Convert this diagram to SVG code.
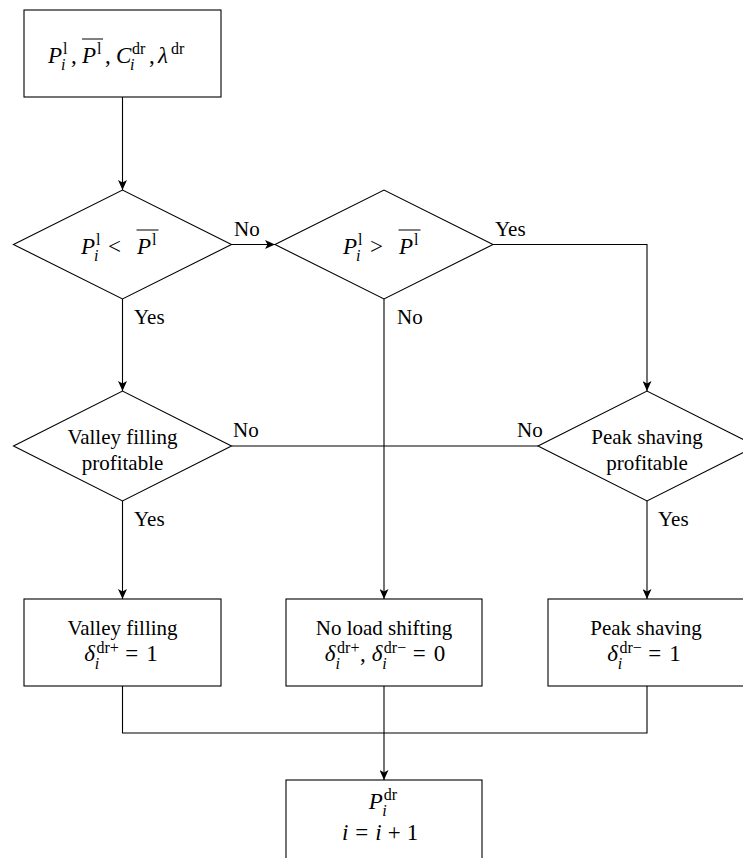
<svg xmlns="http://www.w3.org/2000/svg" width="743" height="858" viewBox="0 0 743 858">
<defs>
<marker id="ah" markerWidth="10" markerHeight="9" refX="10" refY="4.5" orient="auto" markerUnits="userSpaceOnUse">
<path d="M0,0 L10,4.5 L0,9 L2.5,4.5 Z" fill="#000"/>
</marker>
</defs>
<rect width="743" height="858" fill="#fff"/>

<g id="connectors" fill="none" stroke="#000" stroke-width="1.1">
<line x1="122.5" y1="97" x2="122.5" y2="190" marker-end="url(#ah)"/>
<line x1="231.5" y1="244.5" x2="275" y2="244.5" marker-end="url(#ah)"/>
<polyline points="493,244.5 647,244.5 647,391" marker-end="url(#ah)"/>
<line x1="122.5" y1="299" x2="122.5" y2="391" marker-end="url(#ah)"/>
<line x1="384" y1="299" x2="384" y2="599" marker-end="url(#ah)"/>
<line x1="231.5" y1="446" x2="384" y2="446"/>
<line x1="538" y1="446" x2="384" y2="446"/>
<line x1="122.5" y1="501" x2="122.5" y2="599" marker-end="url(#ah)"/>
<line x1="647" y1="501" x2="647" y2="599" marker-end="url(#ah)"/>
<polyline points="122.5,686 122.5,733 647,733 647,686"/>
<line x1="384" y1="686" x2="384" y2="780" marker-end="url(#ah)"/>
</g>
<g id="labels" font-family="Liberation Serif" font-size="21" fill="#000">
<text x="234" y="236">No</text>
<text x="495" y="236">Yes</text>
<text x="134" y="324">Yes</text>
<text x="397" y="324">No</text>
<text x="233" y="437">No</text>
<text x="517" y="437">No</text>
<text x="134" y="526">Yes</text>
<text x="658" y="526">Yes</text>
</g>

<g id="input">
<rect x="24" y="10" width="197" height="87" fill="#fff" stroke="#000" stroke-width="1.1"/>
<text font-family="Liberation Serif" font-size="23"><tspan font-style="italic" x="48" y="63">P</tspan><tspan font-size="16" x="63" y="54">l</tspan><tspan font-size="16" font-style="italic" x="61" y="70">i</tspan><tspan x="71" y="63">,</tspan><tspan font-style="italic" x="82" y="63">P</tspan><tspan font-size="16" x="97" y="54">l</tspan><tspan x="105" y="63">,</tspan><tspan font-style="italic" x="116" y="63">C</tspan><tspan font-size="16" x="132" y="54">dr</tspan><tspan font-size="16" font-style="italic" x="130" y="70">i</tspan><tspan x="149" y="63">,</tspan><tspan font-style="italic" x="158" y="63">λ</tspan><tspan font-size="16" x="171" y="54">dr</tspan></text>
<line x1="82" y1="39" x2="103" y2="39" stroke="#000"/>
</g>

<g id="dec-less">
<polygon points="13.5,244.5 122.5,190 231.5,244.5 122.5,299" fill="#fff" stroke="#000" stroke-width="1.1"/>
<text font-family="Liberation Serif" font-size="23"><tspan font-style="italic" x="81" y="254">P</tspan><tspan font-size="16" x="96" y="245">l</tspan><tspan font-size="16" font-style="italic" x="94" y="261">i</tspan><tspan x="108" y="254">&lt;</tspan><tspan font-style="italic" x="137" y="254">P</tspan><tspan font-size="16" x="152" y="245">l</tspan></text>
<line x1="136.5" y1="230" x2="158.5" y2="230" stroke="#000"/>
</g>

<g id="dec-greater">
<polygon points="275,244.5 384,190 493,244.5 384,299" fill="#fff" stroke="#000" stroke-width="1.1"/>
<text font-family="Liberation Serif" font-size="23"><tspan font-style="italic" x="343" y="254">P</tspan><tspan font-size="16" x="358" y="245">l</tspan><tspan font-size="16" font-style="italic" x="356" y="261">i</tspan><tspan x="370" y="254">&gt;</tspan><tspan font-style="italic" x="399" y="254">P</tspan><tspan font-size="16" x="414" y="245">l</tspan></text>
<line x1="398.5" y1="230" x2="420.5" y2="230" stroke="#000"/>
</g>

<g id="dec-valley">
<polygon points="13.5,446 122.5,391 231.5,446 122.5,501" fill="#fff" stroke="#000" stroke-width="1.1"/>
<text font-family="Liberation Serif" font-size="21" text-anchor="middle" x="122.5" y="444">Valley filling</text>
<text font-family="Liberation Serif" font-size="21" text-anchor="middle" x="122.5" y="470">profitable</text>
</g>

<g id="dec-peak">
<polygon points="538,446 647,391 756,446 647,501" fill="#fff" stroke="#000" stroke-width="1.1"/>
<text font-family="Liberation Serif" font-size="21" text-anchor="middle" x="647" y="444">Peak shaving</text>
<text font-family="Liberation Serif" font-size="21" text-anchor="middle" x="647" y="470">profitable</text>
</g>

<g id="valley">
<rect x="24" y="599" width="197" height="87" fill="#fff" stroke="#000" stroke-width="1.1"/>
<text font-family="Liberation Serif" font-size="21" text-anchor="middle" x="122.5" y="635">Valley filling</text>
<text font-family="Liberation Serif" font-size="23" text-anchor="middle" x="121" y="661"><tspan font-style="italic">δ</tspan><tspan font-size="16" dx="1.5" dy="-8">dr+</tspan><tspan font-size="16" font-style="italic" dx="-24" dy="16">i</tspan><tspan dx="26" dy="-8">=</tspan><tspan dx="8">1</tspan></text>
</g>

<g id="noshift">
<rect x="286" y="599" width="196" height="87" fill="#fff" stroke="#000" stroke-width="1.1"/>
<text font-family="Liberation Serif" font-size="21" text-anchor="middle" x="384" y="635">No load shifting</text>
<text font-family="Liberation Serif" font-size="23" text-anchor="middle" x="385" y="661"><tspan font-style="italic">δ</tspan><tspan font-size="16" dx="1.5" dy="-8">dr+</tspan><tspan font-size="16" font-style="italic" dx="-24" dy="16">i</tspan><tspan dx="20" dy="-8">,</tspan><tspan font-style="italic" dx="6">δ</tspan><tspan font-size="16" dx="1.5" dy="-8">dr−</tspan><tspan font-size="16" font-style="italic" dx="-24" dy="16">i</tspan><tspan dx="26" dy="-8">=</tspan><tspan dx="8">0</tspan></text>
</g>

<g id="peak">
<rect x="548" y="599" width="197" height="87" fill="#fff" stroke="#000" stroke-width="1.1"/>
<text font-family="Liberation Serif" font-size="21" text-anchor="middle" x="646" y="635">Peak shaving</text>
<text font-family="Liberation Serif" font-size="23" text-anchor="middle" x="644" y="661"><tspan font-style="italic">δ</tspan><tspan font-size="16" dx="1.5" dy="-8">dr−</tspan><tspan font-size="16" font-style="italic" dx="-24" dy="16">i</tspan><tspan dx="26" dy="-8">=</tspan><tspan dx="8">1</tspan></text>
</g>

<g id="output">
<rect x="286" y="780" width="196" height="87" fill="#fff" stroke="#000" stroke-width="1.1"/>
<text font-family="Liberation Serif" font-size="23" text-anchor="middle" x="383" y="809"><tspan font-style="italic">P</tspan><tspan font-size="16" dx="1" dy="-9">dr</tspan><tspan font-size="16" font-style="italic" dx="-15" dy="16">i</tspan></text>
<text font-family="Liberation Serif" font-size="23" text-anchor="middle" x="380" y="840"><tspan font-style="italic">i</tspan><tspan dx="7">=</tspan><tspan font-style="italic" dx="7">i</tspan><tspan dx="6">+</tspan><tspan dx="6">1</tspan></text>
</g>
</svg>
